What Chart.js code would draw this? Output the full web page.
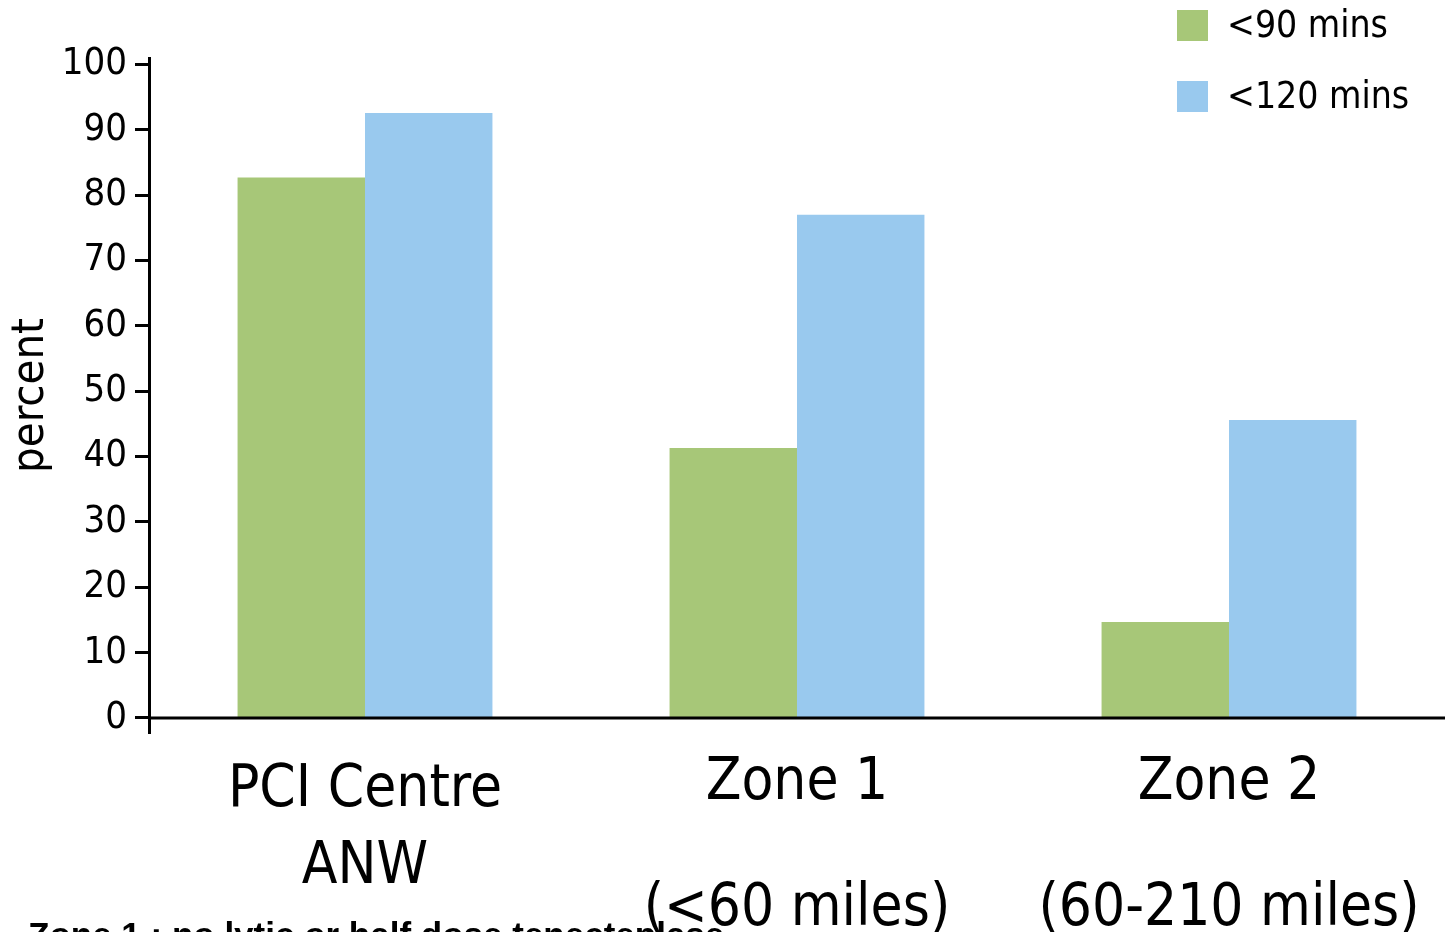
<!DOCTYPE html>
<html>
<head>
<meta charset="utf-8">
<script src="https://cdn.jsdelivr.net/npm/chart.js@4.4.1/dist/chart.umd.min.js"></script>
<style>
  html, body { margin: 0; padding: 0; background: #fff; overflow: hidden; }
  #wrap { position: relative; width: 1445px; height: 932px; }
  #nota { position: absolute; left: 28px; top: 917px; font: bold 35px "Liberation Sans", Arial, sans-serif; line-height: 35px; white-space: nowrap; color: #000; }
</style>
</head>
<body>
<div id="wrap">
  <canvas id="plot1" width="1445" height="932"></canvas>
  <div id="nota">Zone 1 : no lytic or half dose tenecteplase</div>
</div>
<script>
// datos
let categorias = [['PCI Centre', 'ANW'], ['Zone 1', '', '(<60 miles)'], ['Zone 2', '', '(60-210 miles)']]
let menos90 = [82.7, 41.3, 14.7]
let menos120 = [92.6, 77.0, 45.6]
let etiquetas = ['<90 mins', '<120 mins']
let yTicks = [0, 10, 20, 30, 40, 50, 60, 70, 80, 90, 100]
let tituloY = 'percent'

let colores = ['#A7C778', '#99C9EE']
let fuente = '"Liberation Sans Narrow", "Arial Narrow", "DejaVu Sans Condensed", sans-serif'

// leyenda dibujada a mano arriba a la derecha
let leyenda = {
  id: 'leyenda',
  afterDraw: (chart) => {
    let ctx = chart.ctx
    ctx.save()
    ctx.font = `37px ${fuente}`
    ctx.textBaseline = 'middle'
    ctx.textAlign = 'left'
    chart.data.datasets.forEach((ds, i) => {
      let x = chart.width - 268
      let y = 10 + i * 71
      ctx.fillStyle = ds.backgroundColor
      ctx.fillRect(x, y, 31, 31)
      ctx.fillStyle = '#000'
      ctx.fillText(ds.label, x + 50, y + 17)
    })
    ctx.restore()
  }
}

// linea base en y = 0 hasta el borde derecho
let ejeBase = {
  id: 'ejeBase',
  afterDatasetsDraw: (chart) => {
    let ctx = chart.ctx
    let y0 = chart.scales.y.getPixelForValue(0)
    ctx.save()
    ctx.strokeStyle = '#000'
    ctx.lineWidth = 3
    ctx.beginPath()
    ctx.moveTo(chart.chartArea.left, y0)
    ctx.lineTo(chart.width, y0)
    ctx.stroke()
    ctx.restore()
  }
}

let plotRef = document.getElementById('plot1')

let config = {
  type: 'bar',
  data: {
    labels: categorias,
    datasets: [
      { label: etiquetas[0], data: menos90, backgroundColor: colores[0], borderWidth: 0 },
      { label: etiquetas[1], data: menos120, backgroundColor: colores[1], borderWidth: 0 }
    ]
  },
  options: {
    responsive: false,
    animation: false,
    layout: { padding: { top: 58, right: 0, left: 0, bottom: 0 } },
    categoryPercentage: 0.59,
    barPercentage: 1,
    plugins: {
      legend: { display: false },
      tooltip: { enabled: false }
    },
    scales: {
      x: {
        grid: { display: false, drawTicks: false },
        border: { display: false },
        afterFit: (scale) => { scale.height = 199 },
        ticks: {
          color: '#000',
          padding: 19,
          autoSkip: false,
          maxRotation: 0,
          font: (c) => ({ family: fuente, size: 58, lineHeight: c.index === 0 ? 77 / 58 : 63 / 58 })
        }
      },
      y: {
        min: -2.3,
        max: 101,
        afterBuildTicks: (scale) => { scale.ticks = yTicks.map(v => ({ value: v })) },
        afterFit: (scale) => { scale.width = 149 },
        grid: { drawOnChartArea: false, drawTicks: true, tickLength: 14, tickWidth: 3, tickColor: '#000' },
        border: { display: true, color: '#000', width: 3 },
        ticks: { color: '#000', padding: 8, font: { family: fuente, size: 38 } },
        title: { display: true, text: tituloY, color: '#000', padding: { top: 4, bottom: 0 }, font: { family: fuente, size: 45 } }
      }
    }
  },
  plugins: [leyenda, ejeBase]
}

let chart1 = new Chart(plotRef, config)
</script>
</body>
</html>
